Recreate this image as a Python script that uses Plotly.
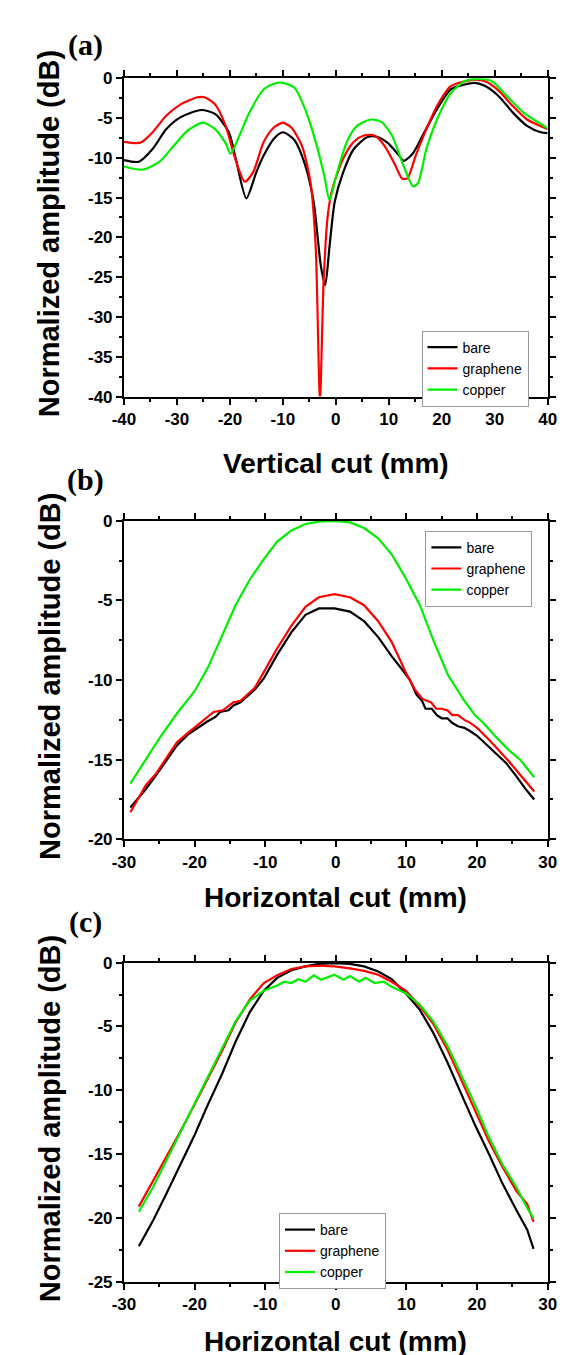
import plotly.graph_objects as go

# ---------------- Data ----------------
# (a) Vertical cut
a_bare_x = [-40, -37.2, -34.6, -32, -29.3, -25.4, -22.8, -20.2, -18.9, -16.9, -15, -13.6, -11.7, -10, -7.8, -5.8,
            -4.2, -2.8, -2.0, -1.2, -0.2, 1.4, 3.4, 6, 7.9, 9.9, 11.9, 12.8, 14.5, 16.4, 19.1, 21.7, 24.3, 26.3,
            28.2, 30.8, 33.4, 36.1, 38.7, 40]
a_bare_y = [-10.3, -10.5, -8.9, -6.4, -4.9, -4.0, -4.5, -6.8, -10.1, -15.1, -11.8, -9.7, -7.6, -6.8, -7.8, -10.9,
            -15.5, -23.7, -26.0, -21.2, -15.5, -11.8, -8.9, -7.4, -7.4, -8.2, -9.7, -10.4, -9.5, -7.2, -3.9, -1.4,
            -0.8, -0.6, -1.0, -2.3, -4.3, -6.0, -6.8, -6.9]
a_gr_x = [-40, -36.9, -34.6, -32, -29.3, -26.1, -24.8, -22.8, -20.8, -19.2, -17.2, -15.6, -13.6, -11.7, -10, -8.4,
          -6.4, -4.8, -3.8, -3.0, -2.3, -1.5, -0.6, 1.4, 3.4, 5.3, 7.3, 9.2, 11.2, 12.5, 13.5, 15.1, 17.1, 19.1,
          21.7, 24.3, 26.3, 28.2, 30.8, 33.4, 36.1, 40]
a_gr_y = [-8.0, -8.1, -6.8, -4.7, -3.3, -2.4, -2.4, -3.3, -6.0, -9.7, -13.0, -11.8, -8.0, -6.2, -5.6, -6.2,
          -8.5, -13.0, -21.2, -40.5, -25.4, -17.1, -13.8, -10.1, -8.0, -7.2, -7.2, -8.5, -10.9, -12.6, -12.6, -9.7,
          -6.4, -3.5, -1.0, -0.4, -0.2, -0.4, -1.6, -3.5, -5.2, -6.4]
a_cu_x = [-40, -36.5, -33.3, -30.6, -28, -25.1, -22.8, -20.8, -19.9, -18.2, -16.3, -13.6, -11.7, -10, -7.8, -5.8,
          -3.8, -2.2, -1.2, 0.1, 2.1, 4.0, 6.6, 8.6, 10.6, 12.5, 14.6, 15.5, 17.1, 19.1, 21.7, 24.3, 26.9, 29.5,
          32.1, 35.4, 40]
a_cu_y = [-11.1, -11.5, -10.5, -8.5, -6.6, -5.6, -6.4, -8.2, -9.5, -7.2, -4.3, -1.4, -0.7, -0.6, -1.2, -3.9,
          -8.0, -12.2, -15.3, -12.2, -8.0, -6.0, -5.2, -5.5, -7.2, -10.5, -13.6, -13.2, -8.9, -5.2, -1.9, -0.4,
          -0.1, -0.4, -2.1, -4.3, -6.3]

# (b) Horizontal cut
b_bare_x = [-29.1, -27.0, -25.5, -22.5, -20.9, -19.0, -18.2, -17.0, -16.4, -15.2, -14.5, -13.5, -12.7, -11.5,
            -10.2, -8.3, -6.3, -4.3, -2.4, -0.2, 2.0, 4.0, 6.0, 7.9, 9.5, 10.5, 11.4, 12.2, 12.7, 13.6, 14.3, 15.0,
            15.8, 16.5, 17.3, 18.2, 19.0, 20.0, 21.7, 22.7, 24.1, 25.5, 26.8, 28.1]
b_bare_y = [-18.0, -16.9, -16.0, -14.1, -13.4, -12.8, -12.6, -12.3, -12.0, -11.9, -11.6, -11.4, -11.1, -10.6,
            -9.9, -8.4, -7.0, -5.9, -5.5, -5.5, -5.7, -6.3, -7.3, -8.5, -9.4, -10.0, -10.9, -11.3, -11.8, -11.8,
            -12.2, -12.4, -12.4, -12.7, -12.9, -13.0, -13.2, -13.5, -14.2, -14.6, -15.2, -16.0, -16.8, -17.5]
b_gr_x = [-29.1, -26.9, -25.5, -22.5, -20.9, -19.0, -17.3, -16.0, -14.5, -13.5, -12.7, -11.5, -10.2, -8.3, -6.3,
          -4.3, -2.4, -0.2, 2.0, 4.0, 6.0, 7.9, 10.0, 11.2, 12.3, 13.5, 14.2, 15.0, 15.8, 16.5, 17.3, 18.2, 19.1,
          20.0, 21.8, 24.5, 28.1]
b_gr_y = [-18.3, -16.6, -15.9, -13.9, -13.3, -12.6, -12.0, -11.9, -11.4, -11.3, -11.0, -10.5, -9.5, -8.0, -6.6,
          -5.4, -4.8, -4.6, -4.8, -5.3, -6.3, -7.6, -9.6, -10.6, -11.2, -11.4, -11.8, -11.8, -11.9, -12.2, -12.2,
          -12.5, -12.7, -13.0, -13.8, -15.1, -17.0]
b_cu_x = [-29.1, -26.9, -24.9, -22.5, -20.0, -18.1, -16.1, -14.2, -12.2, -10.2, -8.3, -6.3, -4.3, -2.4, -0.2,
          2.0, 4.0, 6.0, 7.9, 9.9, 11.9, 13.9, 15.9, 18.2, 19.7, 20.9, 22.5, 24.5, 26.1, 28.1]
b_cu_y = [-16.5, -15.0, -13.6, -12.1, -10.7, -9.2, -7.2, -5.3, -3.7, -2.4, -1.3, -0.6, -0.2, -0.05, 0.0,
          -0.1, -0.45, -1.1, -2.1, -3.6, -5.3, -7.6, -9.7, -11.3, -12.2, -12.7, -13.5, -14.4, -15.0, -16.1]

# (c) Horizontal cut
c_x = [-27.9, -25.9, -24.0, -22.0, -20.0, -18.1, -16.1, -14.2, -12.2, -10.2, -8.3, -6.3, -4.3, -2.4, -0.2, 2.0,
       4.0, 6.0, 7.9, 9.9, 11.9, 13.8, 15.8, 17.7, 19.7, 21.7, 23.6, 25.6, 27.1, 28.0]
c_bare_y = [-22.2, -20.2, -18.1, -15.8, -13.5, -11.1, -8.7, -6.2, -3.9, -2.2, -1.2, -0.6, -0.3, -0.1, -0.05,
            -0.1, -0.3, -0.7, -1.3, -2.4, -3.7, -5.5, -7.8, -10.2, -12.7, -15.0, -17.3, -19.4, -20.9, -22.4]
c_gr_y = [-19.1, -17.1, -15.3, -13.2, -11.1, -9.1, -6.9, -4.7, -2.9, -1.6, -1.0, -0.5, -0.3, -0.25, -0.3,
          -0.45, -0.65, -0.95, -1.5, -2.2, -3.4, -4.8, -6.8, -9.1, -11.5, -14.0, -16.0, -17.9, -18.9, -20.3]
c_cu_x = [-27.9, -25.9, -24.0, -22.0, -20.0, -18.1, -16.1, -14.2, -12.2, -10.2, -8.3, -7.3, -6.3, -5.3, -4.3,
          -3.1, -2.1, -0.2, 1.1, 2.0, 3.3, 4.2, 5.5, 6.8, 7.9, 9.9, 11.9, 13.8, 15.8, 17.7, 19.7, 21.7, 23.6,
          25.6, 27.1, 28.0]
c_cu_y = [-19.5, -17.6, -15.5, -13.3, -11.1, -9.0, -6.8, -4.6, -3.0, -2.2, -1.8, -1.5, -1.6, -1.3, -1.5,
          -1.0, -1.35, -0.95, -1.35, -1.05, -1.5, -1.2, -1.6, -1.5, -1.9, -2.4, -3.3, -4.6, -6.5, -8.7, -11.1,
          -13.7, -15.8, -17.6, -19.2, -20.0]

series_names = ["bare", "graphene", "copper"]
series_colors = ["#000000", "#ff0000", "#00ee00"]

xt_a = [-40, -30, -20, -10, 0, 10, 20, 30, 40]
yt_a = [0, -5, -10, -15, -20, -25, -30, -35, -40]
xt_bc = [-30, -20, -10, 0, 10, 20, 30]
yt_b = [0, -5, -10, -15, -20]
yt_c = [0, -5, -10, -15, -20, -25]

panel_labels = ["(a)", "(b)", "(c)"]
x_titles = ["Vertical cut (mm)", "Horizontal cut (mm)", "Horizontal cut (mm)"]
y_title = "Normalized amplitude (dB)"

# ---------------- Layout geometry ----------------
W, H = 566, 1355
left, right = 108, 548
panels_px = [(62, 385), (511, 834), (959, 1283)]


def py(v):
    return 1 - v / H


fig = go.Figure()

data_sets = [
    [(a_bare_x, a_bare_y), (a_gr_x, a_gr_y), (a_cu_x, a_cu_y)],
    [(b_bare_x, b_bare_y), (b_gr_x, b_gr_y), (b_cu_x, b_cu_y)],
    [(c_x, c_bare_y), (c_x, c_gr_y), (c_cu_x, c_cu_y)],
]
shapes = ["spline", "linear", "linear"]
legend_ids = ["legend", "legend2", "legend3"]

for p, ds in enumerate(data_sets):
    xa = "x" if p == 0 else f"x{p+1}"
    ya = "y" if p == 0 else f"y{p+1}"
    for k, (xs, ys) in enumerate(ds):
        fig.add_trace(go.Scatter(
            x=xs, y=ys, mode="lines", name=series_names[k],
            line=dict(color=series_colors[k], width=2.2, shape=shapes[p], smoothing=0.7),
            xaxis=xa, yaxis=ya, legend=legend_ids[p], showlegend=True,
        ))

tickfont = dict(family="Liberation Sans, Arial", size=17, color="black", weight="bold")


def axis_common():
    return dict(showline=True, linecolor="black", linewidth=2, mirror="allticks",
                ticks="outside", ticklen=6, tickwidth=2, tickcolor="black",
                showgrid=False, zeroline=False, tickfont=tickfont, fixedrange=True)


xranges = [(-40, 40), (-30, 30), (-30, 30)]
yranges = [(-40, 0), (-20, 0), (-25, 0)]
xticks = [xt_a, xt_bc, xt_bc]
yticks = [yt_a, yt_b, yt_c]
xminor = [5, 5, 5]
yminor = [2.5, 2.5, 2.5]

layout = dict(width=W, height=H, margin=dict(l=0, r=0, t=0, b=0),
              paper_bgcolor="white", plot_bgcolor="white", showlegend=True)

for p in range(3):
    sx = "xaxis" if p == 0 else f"xaxis{p+1}"
    sy = "yaxis" if p == 0 else f"yaxis{p+1}"
    ya = "y" if p == 0 else f"y{p+1}"
    xa = "x" if p == 0 else f"x{p+1}"
    top, bot = panels_px[p]
    xax = axis_common()
    xax.update(domain=[left / W, right / W], range=list(xranges[p]), anchor=ya,
               tickmode="array", tickvals=xticks[p], ticktext=[str(v) for v in xticks[p]],
               minor=dict(dtick=xminor[p], tick0=0, ticks="outside", ticklen=3, tickwidth=2, tickcolor="black"))
    yax = axis_common()
    yax.update(domain=[py(bot), py(top)], range=list(yranges[p]), anchor=xa,
               tickmode="array", tickvals=yticks[p], ticktext=[str(v) for v in yticks[p]],
               minor=dict(dtick=yminor[p], tick0=0, ticks="outside", ticklen=3, tickwidth=2, tickcolor="black"))
    layout[sx] = xax
    layout[sy] = yax

legend_pos = [(417, 318), (421, 521), (269, 1213)]
for p, lid in enumerate(legend_ids):
    lx, ly = legend_pos[p]
    layout[lid] = dict(x=lx / W, y=py(ly), xanchor="left", yanchor="top",
                       bgcolor="white", bordercolor="#999999", borderwidth=1,
                       font=dict(family="Liberation Sans, Arial", size=14, color="black"),
                       itemwidth=30, tracegroupgap=0)

annotations = []
label_y = [28, 470, 918]
xt_y = [453, 893, 1343]
for p in range(3):
    top, bot = panels_px[p]
    annotations.append(dict(text=panel_labels[p], x=68 / W, y=py(label_y[p]), xref="paper", yref="paper",
                            showarrow=False, xanchor="center", yanchor="middle",
                            font=dict(family="Liberation Serif, Times New Roman", size=30, color="black",
                                      weight="bold")))
    annotations.append(dict(text=x_titles[p], x=((left + right) / 2) / W, y=py(xt_y[p]), xref="paper",
                            yref="paper", showarrow=False, xanchor="center", yanchor="middle",
                            font=dict(family="Liberation Sans, Arial", size=28, color="black", weight="bold")))
    annotations.append(dict(text=y_title, x=31 / W, y=py((top + bot) / 2 - 4), xref="paper", yref="paper",
                            showarrow=False, xanchor="center", yanchor="middle", textangle=-90,
                            font=dict(family="Liberation Sans, Arial", size=29, color="black", weight="bold")))
layout["annotations"] = annotations

fig.update_layout(**layout)
fig.write_html("out.html")
